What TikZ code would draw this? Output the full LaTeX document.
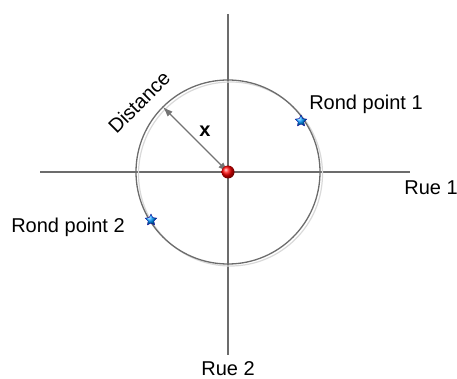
\documentclass[tikz,border=0pt]{standalone}
\usepackage{fontspec}
\setmainfont{Liberation Sans}
\usetikzlibrary{shapes.geometric,arrows.meta,calc}
\begin{document}
\begin{tikzpicture}[x=1pt,y=-1pt,
  road/.style={draw=gray!85!black,line width=1.1pt},
  lbl/.style={font=\fontsize{20}{24}\selectfont,inner sep=0pt},
  rp/.style={star,star points=5,star point ratio=2,minimum size=12pt,inner sep=0pt,draw=blue!60!black,line width=0.4pt,ball color=cyan!60!blue},
  dist/.style={draw=gray!90!black,line width=1.1pt,{Latex[length=10pt,width=7pt]}-{Latex[length=10pt,width=7pt]}}]
\useasboundingbox (0,0) rectangle (457,379);
\coordinate (c) at (228,172);
\coordinate (hl) at (40,172);
\coordinate (hr) at (410,172);
\coordinate (vt) at (228,14);
\coordinate (vb) at (228,355);
\draw[road] (hl) -- (hr);
\draw[road] (vt) -- (vb);
% circle with faint shadow
\draw[gray!30,line width=1.2pt] ($(c)+(2.5,2)$) circle[radius=92];
\draw[gray!85!black,line width=1.3pt] (c) circle[radius=92];
\coordinate (e) at (163,107);
\draw[dist] (c) -- (e);
\node[lbl] (x) at (205,131) {\textbf{x}};
\node[lbl,rotate=45] (d) at (139,102) {Distance};
\node[circle,minimum size=13pt,inner sep=0pt,ball color=red] (ctr) at (c) {};
\node[rp] (s1) at (301,121) {};
\node[rp] (s2) at (151,220) {};
\node[lbl] (r1) at (366,104) {Rond point 1};
\node[lbl] (r2) at (68,227) {Rond point 2};
\node[lbl] (rue1) at (431,188) {Rue 1};
\node[lbl] (rue2) at (228,369) {Rue 2};
\end{tikzpicture}
\end{document}
